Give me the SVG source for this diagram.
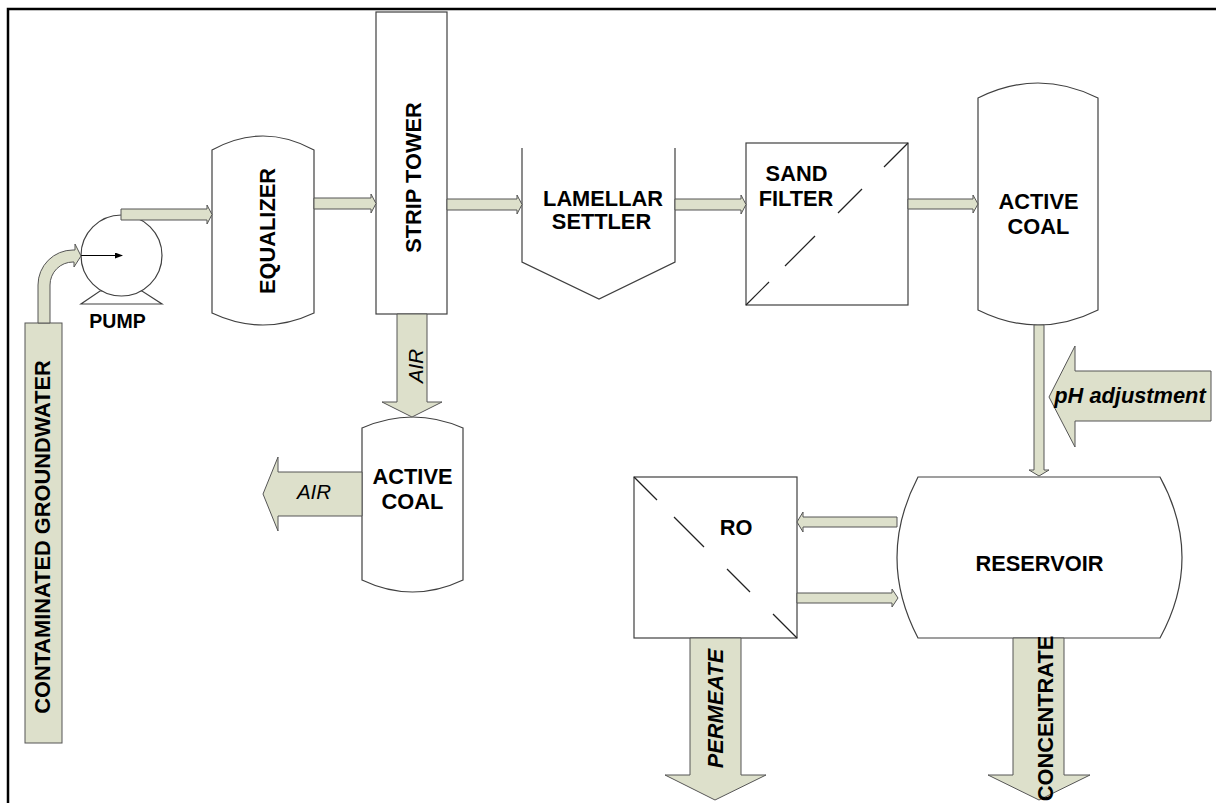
<svg xmlns="http://www.w3.org/2000/svg" width="1216" height="803" viewBox="0 0 1216 803">
<style>
.node{fill:#fff;stroke:#404040;stroke-width:1.2}
.arr{fill:#dde0cb;stroke:#555;stroke-width:1}
.lbl{font-family:"Liberation Sans",Arial,sans-serif;font-weight:bold;font-size:21.8px;fill:#000;text-anchor:middle}
.it{font-style:italic}
.reg{font-weight:normal}
.dash{stroke:#222;stroke-width:1.2}
</style>
<defs>
<marker id="ah" markerWidth="8" markerHeight="6" refX="7" refY="3" orient="auto" markerUnits="userSpaceOnUse">
<path d="M0,0 L8,3 L0,6 Z" fill="#000"/>
</marker>
</defs>
<rect x="8" y="9" width="1230" height="810" fill="#fff" stroke="#000" stroke-width="2.5"/>

<g id="groundwater">
<rect class="arr" x="25" y="323" width="37" height="420"/>
<text class="lbl" transform="translate(50,537) rotate(-90)">CONTAMINATED GROUNDWATER</text>
</g>

<g id="pump">
<polygon class="node" points="81,304 162,304 142,291 100,291"/>
<circle class="node" cx="121.5" cy="255.5" r="40.5"/>
<line x1="81" y1="255.5" x2="122" y2="255.5" stroke="#000" stroke-width="1" marker-end="url(#ah)"/>
<text class="lbl" x="117.5" y="327.5" style="font-size:19.5px">PUMP</text>
</g>

<g id="equalizer">
<path class="node" d="M212,150 Q263,122 314,150 L314,313 Q263,337 212,313 Z"/>
<text class="lbl" transform="translate(274.5,231) rotate(-90)">EQUALIZER</text>
</g>

<g id="strip-tower">
<rect class="node" x="376" y="12" width="71" height="302"/>
<text class="lbl" transform="translate(421,177.5) rotate(-90)">STRIP TOWER</text>
</g>

<g id="lamellar-settler">
<path class="node" d="M522,148 L522,262 L599,299 L675,262 L675,148" />
<text class="lbl" x="603" y="205.5">LAMELLAR</text>
<text class="lbl" x="601.5" y="228.5">SETTLER</text>
</g>

<g id="sand-filter">
<rect class="node" x="746" y="143" width="162" height="162"/>
<g class="dash">
<line x1="746" y1="305" x2="769" y2="282"/>
<line x1="785" y1="266" x2="815" y2="236"/>
<line x1="838" y1="213" x2="862" y2="189"/>
<line x1="884" y1="167" x2="908" y2="143"/>
</g>
<text class="lbl" x="796.5" y="180.5">SAND</text>
<text class="lbl" x="796" y="205.5">FILTER</text>
</g>

<g id="active-coal-1">
<path class="node" d="M978,98 Q1038,68 1098,98 L1098,310 Q1038,340 978,310 Z"/>
<text class="lbl" x="1038.5" y="208.5">ACTIVE</text>
<text class="lbl" x="1038.5" y="233.5">COAL</text>
</g>

<g id="active-coal-2">
<path class="node" d="M362,428 Q412.5,406 463,428 L463,580 Q412.5,604 362,580 Z"/>
<text class="lbl" x="412.5" y="483.5">ACTIVE</text>
<text class="lbl" x="412.5" y="508.5">COAL</text>
</g>

<g id="reservoir">
<path class="node" d="M918,477 L1160,477 Q1204,557.5 1160,638 L918,638 Q876,557.5 918,477 Z"/>
<text class="lbl" x="1039.5" y="570.5">RESERVOIR</text>
</g>

<g id="ro">
<rect class="node" x="634" y="477" width="163" height="161"/>
<g class="dash">
<line x1="634" y1="477" x2="657" y2="500"/>
<line x1="674" y1="517" x2="704" y2="547"/>
<line x1="727" y1="569" x2="750" y2="592"/>
<line x1="773" y1="614" x2="797" y2="638"/>
</g>
<text class="lbl" x="736" y="534.5">RO</text>
</g>

<g id="connectors">
<path class="arr" d="M38,323 L38,285 A35,35 0 0 1 73,250 L75,250 L75,244 L81,256 L74,267 L74,262 L73,262 A23,23 0 0 0 50,285 L50,323 Z"/>
<polygon class="arr" points="121,209 207,209 207,205 212,214.5 207,224 207,220 121,220"/>
<polygon class="arr" points="314,198 371,198 371,194 376,203.5 371,213 371,209 314,209"/>
<polygon class="arr" points="447,199 517,199 517,195 522,204.5 517,214 517,210 447,210"/>
<polygon class="arr" points="675,199 741,199 741,195 746,204.5 741,214 741,210 675,210"/>
<polygon class="arr" points="908,199 973,199 973,195 978,204 973,213 973,209 908,209"/>
<polygon class="arr" points="1034,325 1044,325 1044,470 1049,470 1039,476 1029,470 1034,470"/>
<polygon class="arr" points="897,517 803,517 803,512 797,522 803,532 803,527 897,527"/>
<polygon class="arr" points="797,593 892,593 892,589 898,598 892,607 892,603 797,603"/>
<polygon class="arr" points="397,314 427,314 427,402 442,402 412,417 382,402 397,402"/>
<text class="lbl it reg" style="font-size:20.5px" transform="translate(422.5,366) rotate(-90)">AIR</text>
<polygon class="arr" points="362,472 278,472 278,457 263,494 278,531 278,516 362,516"/>
<text class="lbl it reg" style="font-size:20.5px" x="314" y="499">AIR</text>
<polygon class="arr" points="1211,371 1075,371 1075,346 1049,397 1075,447 1075,421 1211,421"/>
<text class="lbl it" x="1130" y="402.5">pH adjustment</text>
<polygon class="arr" points="690,638 741,638 741,775 766,775 715,800 665,775 690,775"/>
<text class="lbl it" transform="translate(722.5,708.5) rotate(-90)">PERMEATE</text>
<polygon class="arr" points="1013,638 1064,638 1064,775 1090,775 1039,800 988,775 1013,775"/>
<text class="lbl" transform="translate(1052.5,718.5) rotate(-90)">CONCENTRATE</text>
</g>
</svg>
